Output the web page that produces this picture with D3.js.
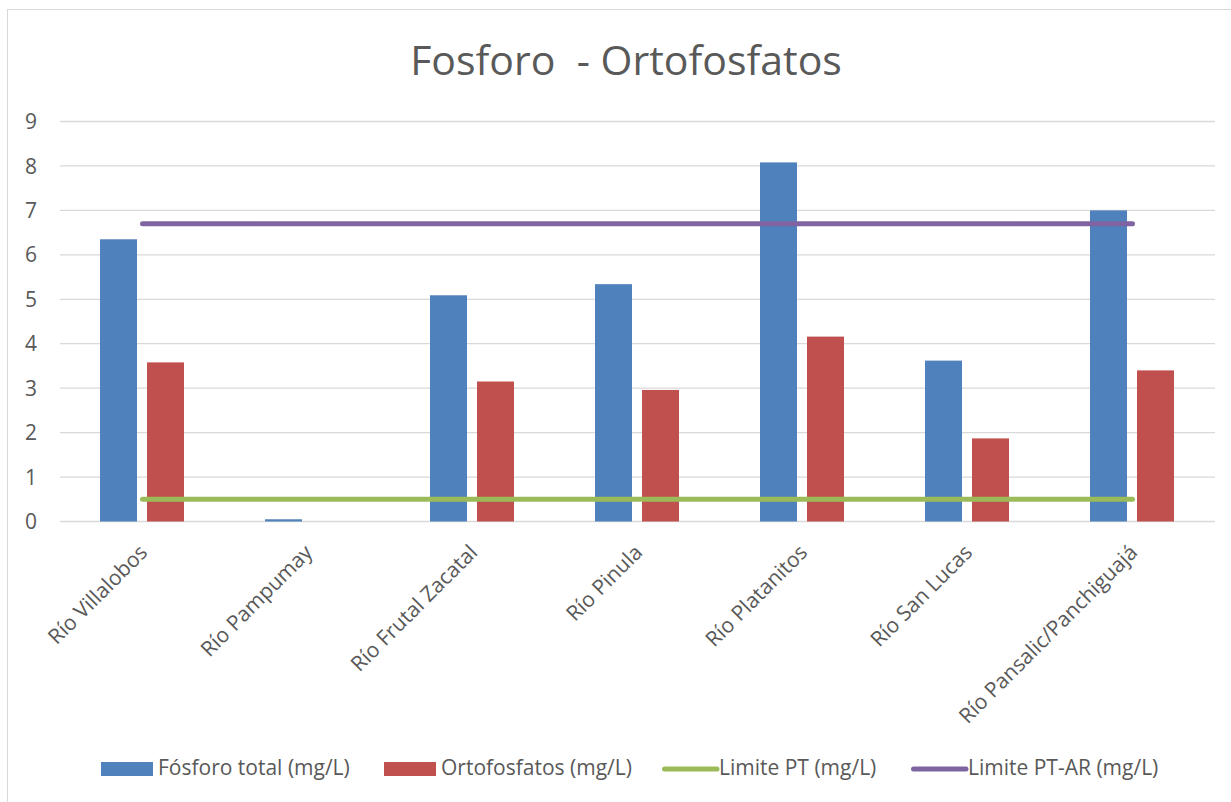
<!DOCTYPE html>
<html>
<head>
<meta charset="utf-8">
<script src="https://cdn.jsdelivr.net/npm/d3@7"></script>
<style>
  body { margin: 0; background: #fff; }
  text { font-family: "Open Sans", sans-serif; fill: #595959; }
</style>
</head>
<body>
<svg id="chart"></svg>
<script>
// Data
const categories = ['Río Villalobos', 'Río Pampumay', 'Río Frutal Zacatal', 'Río Pinula',
    'Río Platanitos', 'Río San Lucas', 'Río Pansalic/Panchiguajá'];
const fosforoTotal = [6.35, 0.05, 5.09, 5.34, 8.08, 3.62, 7.0];
const ortofosfatos = [3.58, 0, 3.15, 2.96, 4.16, 1.87, 3.4];
const limitePT = [0.5, 0.5, 0.5, 0.5, 0.5, 0.5, 0.5];
const limitePTAR = [6.7, 6.7, 6.7, 6.7, 6.7, 6.7, 6.7];
const yTicks = [0, 1, 2, 3, 4, 5, 6, 7, 8, 9];
const seriesNames = ['Fósforo total (mg/L)', 'Ortofosfatos (mg/L)', 'Limite PT (mg/L)', 'Limite PT-AR (mg/L)'];
const colors = ['#4F81BD', '#C0504D', '#9BBB59', '#8064A2'];

const width = 1231;
const height = 802;
const margin = { top: 121.5, right: 16, bottom: 280.5, left: 60 };

const svg = d3.select('#chart')
    .attr('width', width)
    .attr('height', height);

// chart frame
svg.append('rect')
    .attr('x', 7.5).attr('y', 9.5)
    .attr('width', width).attr('height', height)
    .attr('fill', 'none')
    .attr('stroke', '#d9d9d9');

// title
svg.append('text')
    .attr('x', 626).attr('y', 75)
    .attr('text-anchor', 'middle')
    .style('font-size', '41px')
    .style('white-space', 'pre')
    .text('Fosforo  - Ortofosfatos');

const x = d3.scaleBand()
    .domain(categories)
    .range([margin.left, width - margin.right]);

const xSub = d3.scaleBand()
    .domain([0, 1])
    .range([40, 124])
    .paddingInner(0.213);

const y = d3.scaleLinear()
    .domain([0, 9])
    .range([height - margin.bottom, margin.top]);

// gridlines
svg.append('g')
    .selectAll('line')
    .data(yTicks)
    .join('line')
    .attr('x1', x.range()[0]).attr('x2', x.range()[1])
    .attr('y1', (d) => y(d)).attr('y2', (d) => y(d))
    .attr('stroke', '#d9d9d9')
    .attr('stroke-width', 1.3);

// y labels
svg.append('g')
    .selectAll('text')
    .data(yTicks)
    .join('text')
    .attr('x', 37)
    .attr('y', (d) => y(d))
    .attr('dy', '0.36em')
    .attr('text-anchor', 'end')
    .style('font-size', '21px')
    .text((d) => d);

// bars
const barSeries = [fosforoTotal, ortofosfatos];
barSeries.forEach((values, s) => {
    svg.append('g')
        .selectAll('rect')
        .data(values)
        .join('rect')
        .attr('x', (d, i) => x(categories[i]) + xSub(s))
        .attr('width', xSub.bandwidth())
        .attr('y', (d) => y(d))
        .attr('height', (d) => y(0) - y(d))
        .attr('fill', colors[s]);
});

// limit lines
const line = d3.line()
    .x((d, i) => x(categories[i]) + x.bandwidth() / 2)
    .y((d) => y(d));

[limitePT, limitePTAR].forEach((values, s) => {
    svg.append('path')
        .datum(values)
        .attr('fill', 'none')
        .attr('stroke', colors[s + 2])
        .attr('stroke-width', 5)
        .attr('stroke-linecap', 'round')
        .attr('d', line);
});

// category labels
svg.append('g')
    .selectAll('text')
    .data(categories)
    .join('text')
    .attr('transform', (d) => `translate(${x(d) + x.bandwidth() / 2 + 1},${y(0) + 27}) rotate(-45)`)
    .attr('text-anchor', 'end')
    .attr('dy', '0.35em')
    .style('font-size', '21px')
    .text((d) => d);

// legend
const legendX = [101, 384, 662, 911];
const legendY = 769;
const legend = svg.append('g');
seriesNames.forEach((name, i) => {
    if (i < 2) {
        legend.append('rect')
            .attr('x', legendX[i]).attr('y', legendY - 7)
            .attr('width', 52).attr('height', 14)
            .attr('fill', colors[i]);
    } else {
        legend.append('line')
            .attr('x1', legendX[i] + 2.5).attr('x2', legendX[i] + 55)
            .attr('y1', legendY).attr('y2', legendY)
            .attr('stroke', colors[i])
            .attr('stroke-width', 5)
            .attr('stroke-linecap', 'round');
    }
    legend.append('text')
        .attr('x', legendX[i] + 57)
        .attr('y', legendY + 6)
        .style('font-size', '21px')
        .text(name);
});
</script>
</body>
</html>
